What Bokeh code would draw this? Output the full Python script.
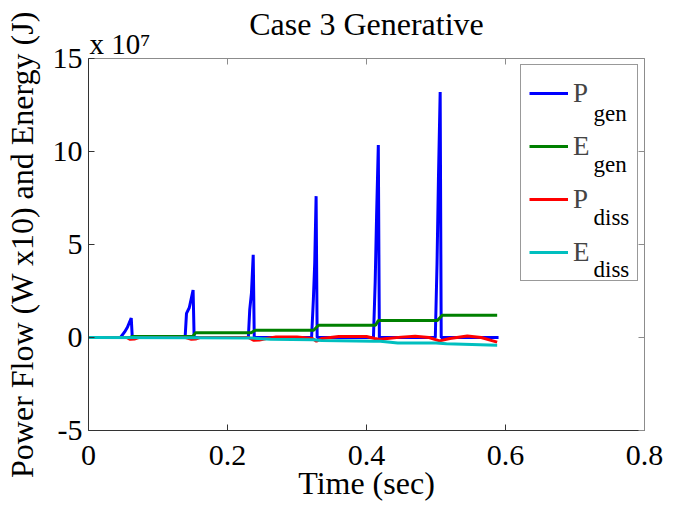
from bokeh.plotting import figure
from bokeh.models import Range1d, LinearAxis, FixedTicker, Legend, LegendItem, Label, Title
from bokeh.embed import file_html
from bokeh.resources import INLINE

# ---- data (y values in units of 1e7) ----
x_ticks = [0, 0.2, 0.4, 0.6, 0.8]
y_ticks = [-5, 0, 5, 10, 15]

t_pgen = [0, 0.046, 0.052, 0.056, 0.0615, 0.063,
          0.139, 0.141, 0.145, 0.1505, 0.152,
          0.230, 0.232, 0.2345, 0.2370, 0.2385,
          0.321, 0.3235, 0.3255, 0.3275, 0.3290,
          0.410, 0.4125, 0.4145, 0.4170, 0.4185,
          0.499, 0.5015, 0.5035, 0.5060, 0.5075,
          0.590]
p_gen = [0, 0, 0.3, 0.55, 1.05, 0,
         0, 1.3, 1.6, 2.55, 0,
         0, 1.5, 2.4, 4.45, 0,
         0, 2.0, 4.0, 7.6, 0,
         0, 3.0, 6.5, 10.35, 0,
         0, 4.0, 8.5, 13.2, 0,
         0]

t_egen = [0, 0.060, 0.064, 0.150, 0.154, 0.234, 0.240, 0.324, 0.331,
          0.413, 0.417, 0.502, 0.509, 0.588]
e_gen = [0, 0, 0.06, 0.06, 0.25, 0.25, 0.39, 0.39, 0.66,
         0.66, 0.91, 0.91, 1.20, 1.20]

t_pdiss = [0, 0.055, 0.060, 0.066, 0.072, 0.140, 0.148, 0.154, 0.160,
           0.230, 0.238, 0.246, 0.256, 0.270, 0.300, 0.322, 0.328, 0.336,
           0.360, 0.400, 0.412, 0.420, 0.430, 0.450, 0.470, 0.490, 0.505,
           0.520, 0.545, 0.565, 0.588]
p_diss = [0, 0, -0.10, -0.08, 0, 0, -0.10, -0.08, 0,
          0, -0.15, -0.14, -0.05, 0.03, 0.03, -0.05, -0.20, -0.05,
          0.05, 0.05, -0.05, -0.10, -0.05, 0.02, 0.07, 0.0, -0.18,
          -0.05, 0.08, 0.0, -0.25]

t_ediss = [0, 0.150, 0.235, 0.262, 0.324, 0.335, 0.410, 0.420, 0.445,
           0.500, 0.515, 0.588]
e_diss = [0, -0.02, -0.03, -0.10, -0.12, -0.16, -0.20, -0.20, -0.29,
          -0.29, -0.34, -0.41]

labels_main = ["P", "E", "P", "E"]
labels_sub = ["gen", "gen", "diss", "diss"]
colors = ["#0000FF", "#008000", "#FF0000", "#00BFBF"]
exponent_text = "x 10\u2077"

FONT = "Liberation Serif"

p = figure(width=682, height=506, x_range=Range1d(0, 0.8), y_range=Range1d(-5, 15),
           output_backend="svg", toolbar_location=None,
           min_border_left=88, min_border_right=38, min_border_top=58, min_border_bottom=76)
p.xgrid.visible = False
p.ygrid.visible = False
p.outline_line_color = None
p.background_fill_color = None
p.border_fill_color = "white"

def style_axis(ax, ticks, dark=True, show_labels=True):
    ax.ticker = FixedTicker(ticks=ticks)
    ax.major_tick_in = 6
    ax.major_tick_out = 0
    ax.minor_tick_line_color = None
    col = "#333333" if dark else "#8c8c8c"
    ax.axis_line_color = col
    ax.major_tick_line_color = col
    ax.major_label_text_font = FONT
    if show_labels:
        ax.major_label_text_font_size = "30px"
        ax.major_label_text_color = "black"
    else:
        ax.major_label_text_font_size = "1px"
        ax.major_label_text_color = None
        ax.major_label_standoff = 0
    ax.axis_label_text_font = FONT
    ax.axis_label_text_font_style = "normal"
    ax.axis_label_text_font_size = "32px"
    ax.axis_label_text_color = "black"

style_axis(p.xaxis[0], x_ticks)
style_axis(p.yaxis[0], y_ticks)
p.yaxis[0].major_label_overrides = {-5: "-5"}
p.xaxis[0].axis_label = "Time (sec)"
p.yaxis[0].axis_label = "Power Flow (W x10) and Energy (J)"
p.xaxis[0].major_label_standoff = 15
p.xaxis[0].axis_label_standoff = -3
p.yaxis[0].major_label_standoff = 6
p.yaxis[0].axis_label_standoff = 10

top_ax = LinearAxis()
right_ax = LinearAxis()
style_axis(top_ax, x_ticks, dark=False, show_labels=False)
style_axis(right_ax, y_ticks, dark=False, show_labels=False)
p.add_layout(top_ax, "above")
p.add_layout(right_ax, "right")

# exponent note just above the top-left corner of the axes
exp_title = Title(text=exponent_text, align="left", offset=1, standoff=-3,
                  text_font=FONT, text_font_size="29px", text_font_style="normal",
                  text_color="black")
p.add_layout(exp_title, "above")

p.title.text = "Case 3 Generative"
p.title.text_font = FONT
p.title.text_font_size = "32px"
p.title.text_font_style = "normal"
p.title.text_color = "black"
p.title.align = "center"
p.title.standoff = -28

series = [(t_pgen, p_gen), (t_egen, e_gen), (t_pdiss, p_diss), (t_ediss, e_diss)]
renderers = []
for (t, v), c in zip(series, colors):
    r = p.line(t, v, line_color=c, line_width=3)
    renderers.append(r)

items = [LegendItem(label=lab, renderers=[r]) for lab, r in zip(labels_main, renderers)]
legend = Legend(items=items, location="top_right", margin=6,
                glyph_width=39, glyph_height=40, label_height=40, label_width=56,
                spacing=13, padding=8, label_standoff=5,
                label_text_font=FONT, label_text_font_size="27px",
                border_line_color="#333333", border_line_width=1,
                background_fill_color=None, background_fill_alpha=0)
p.add_layout(legend, "center")

# subscripts for legend entries
sub_x = 0.7266
sub_y = [12.04, 9.30, 6.45, 3.66]
for s, yy in zip(labels_sub, sub_y):
    p.add_layout(Label(x=sub_x, y=yy, text=s, text_font=FONT, text_font_size="23px",
                       text_baseline="alphabetic", text_color="black", level="overlay"))

open("out.html", "w").write(file_html(p, INLINE))
